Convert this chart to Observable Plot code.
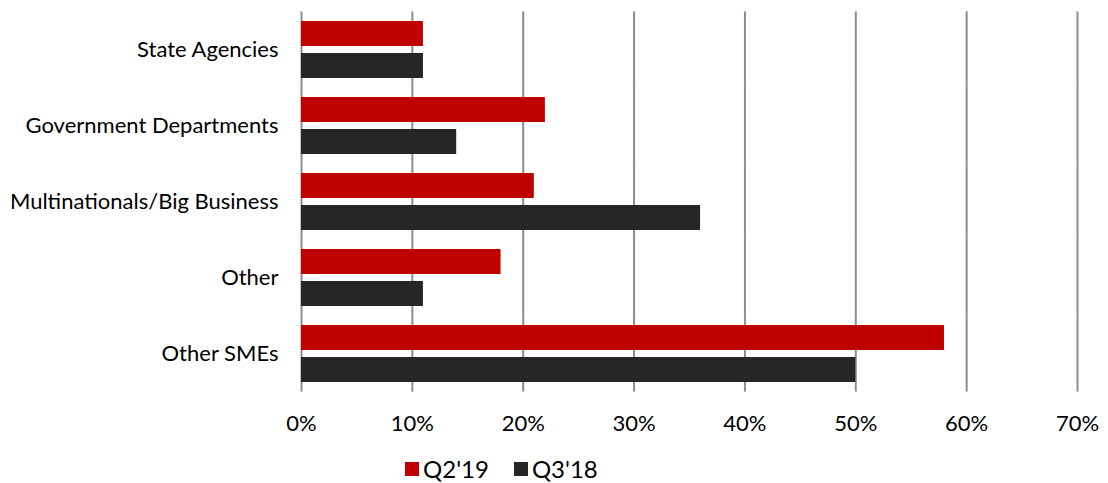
<!DOCTYPE html>
<html>
<head>
<meta charset="utf-8">
<script src="https://cdn.jsdelivr.net/npm/d3@7"></script>
<script src="https://cdn.jsdelivr.net/npm/@observablehq/plot@0.6"></script>
<style>
  html, body { margin: 0; padding: 0; background: #fff; }
  body { width: 1108px; height: 483px; overflow: hidden; font-family: Lato, "Open Sans", sans-serif; }
  #chart svg { display: block; }
  #legend { position: absolute; top: 454px; left: 405px; display: flex; align-items: center; font-size: 24px; color: #000; }
  #legend .item { display: flex; align-items: center; margin-right: 25px; }
  #legend .sw { width: 14px; height: 14px; margin-right: 4px; }
</style>
</head>
<body>
<div id="chart"></div>
<div id="legend"></div>
<script>
const categories = ["State Agencies", "Government Departments", "Multinationals/Big Business", "Other", "Other SMEs"];
const series = ["Q2'19", "Q3'18"];
const q2_19 = [11, 22, 21, 18, 58];
const q3_18 = [11, 14, 36, 11, 50];
const xTicks = [0, 10, 20, 30, 40, 50, 60, 70];
const colors = ["#C00000", "#262626"];

const data = [];
categories.forEach((c, i) => {
  data.push({category: c, series: series[0], value: q2_19[i]});
  data.push({category: c, series: series[1], value: q3_18[i]});
});

const chart = Plot.plot({
  width: 1108,
  height: 440,
  marginLeft: 301,
  marginRight: 31,
  marginTop: 11,
  marginBottom: 49,
  style: {fontFamily: "Lato, 'Open Sans', sans-serif", fontSize: "22px", color: "#000", background: "#fff"},
  x: {domain: [0, 70], ticks: xTicks, tickFormat: d => d + "%", tickSize: 0, tickPadding: 33, label: null, axis: "bottom"},
  fy: {domain: categories, paddingInner: 0.25, paddingOuter: 0.125, label: null, tickSize: 0, tickPadding: 23, axis: "left"},
  y: {domain: series, paddingInner: 0.22, paddingOuter: 0, axis: null},
  color: {domain: series, range: colors},
  marks: [
    Plot.ruleX(xTicks, {x: d => d, stroke: "#8c8c8c", strokeWidth: 2, insetTop: -9.6, insetBottom: -9.6}),
    Plot.barX(data, {fy: "category", y: "series", x: "value", fill: "series"})
  ]
});
chart.querySelectorAll("text").forEach(t => t.setAttribute("font-size", "22"));
document.getElementById("chart").appendChild(chart);

const legend = document.getElementById("legend");
series.forEach((s, i) => {
  const item = document.createElement("div");
  item.className = "item";
  const sw = document.createElement("div");
  sw.className = "sw";
  sw.style.background = colors[i];
  const lab = document.createElement("span");
  lab.textContent = s;
  item.appendChild(sw);
  item.appendChild(lab);
  legend.appendChild(item);
});
</script>
</body>
</html>
